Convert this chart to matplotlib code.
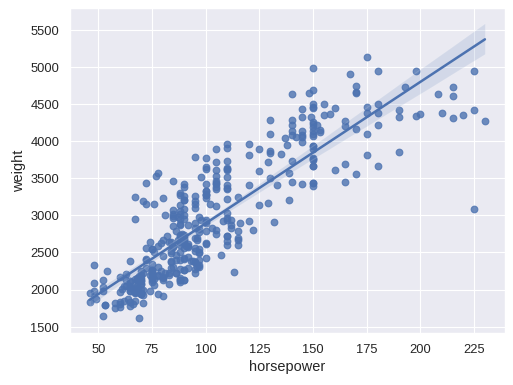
import matplotlib
matplotlib.use("Agg")
import matplotlib.pyplot as plt
import seaborn as sns
import pandas as pd

# horsepower / weight pairs
horsepower = [
    130, 165, 150, 150, 140, 198, 220, 215, 225, 190, 170, 160, 150, 225, 95, 95, 97, 85, 88, 46,
    87, 90, 95, 113, 90, 215, 200, 210, 193, 88, 90, 95, 100, 105, 100, 88, 100, 165, 175, 153,
    150, 180, 170, 175, 110, 72, 100, 88, 86, 90, 70, 76, 65, 69, 60, 70, 95, 80, 54, 90,
    86, 165, 175, 150, 153, 150, 208, 155, 160, 190, 97, 150, 130, 140, 150, 112, 76, 87, 69, 86,
    92, 97, 80, 88, 175, 150, 145, 137, 150, 198, 150, 158, 150, 215, 225, 175, 105, 100, 100, 88,
    95, 46, 150, 167, 170, 180, 100, 88, 72, 94, 90, 85, 107, 90, 145, 230, 49, 75, 91, 112,
    150, 110, 122, 180, 95, 100, 100, 67, 80, 65, 75, 100, 110, 105, 140, 150, 150, 140, 150, 83,
    67, 78, 52, 61, 75, 75, 75, 97, 93, 67, 95, 105, 72, 72, 170, 145, 150, 148, 110, 105,
    110, 95, 110, 110, 129, 75, 83, 100, 78, 96, 71, 97, 97, 70, 90, 95, 88, 98, 115, 53,
    86, 81, 92, 79, 83, 140, 150, 120, 152, 100, 105, 81, 90, 52, 60, 70, 53, 100, 78, 110,
    95, 71, 70, 75, 72, 102, 150, 88, 108, 120, 180, 145, 130, 150, 68, 80, 58, 96, 70, 145,
    110, 145, 130, 110, 105, 100, 98, 180, 170, 190, 149, 78, 88, 75, 89, 63, 83, 67, 78, 97,
    110, 110, 48, 66, 52, 70, 60, 110, 140, 139, 105, 95, 85, 88, 100, 90, 105, 85, 110, 120,
    145, 165, 139, 140, 68, 95, 97, 75, 95, 105, 85, 97, 103, 125, 115, 133, 71, 68, 115, 85,
    88, 90, 110, 130, 129, 138, 135, 155, 142, 125, 150, 71, 65, 80, 80, 77, 125, 71, 90, 70,
    70, 65, 69, 90, 115, 115, 90, 76, 60, 70, 65, 90, 88, 90, 90, 78, 90, 75, 92, 75,
    65, 105, 65, 48, 48, 67, 67, 67, 67, 62, 132, 100, 88, 72, 84, 84, 92, 110, 84, 58,
    64, 60, 67, 65, 62, 68, 63, 65, 65, 74, 75, 75, 100, 74, 80, 76, 116, 120, 110, 105,
    88, 85, 88, 88, 88, 85, 84, 90, 92, 74, 68, 68, 63, 70, 88, 75, 70, 67, 67, 67,
    110, 85, 92, 112, 96, 84, 90, 86, 52, 84, 79, 82,
]
weight = [
    3504, 3693, 3436, 3433, 3449, 4341, 4354, 4312, 4425, 3850, 3563, 3609, 3761, 3086, 2372, 2833, 2774, 2587, 2130, 1835,
    2672, 2430, 2375, 2234, 2648, 4615, 4376, 4382, 4732, 2130, 2264, 2228, 2634, 3439, 3329, 3302, 3288, 4209, 4464, 4154,
    4096, 4955, 4746, 5140, 2962, 2408, 3282, 3139, 2220, 2123, 2074, 2065, 1773, 1613, 1834, 1955, 2278, 2126, 2254, 2408,
    2226, 4274, 4385, 4135, 4129, 3672, 4633, 4502, 4456, 4422, 2330, 3892, 4098, 4294, 4077, 2933, 2511, 2979, 2189, 2395,
    2288, 2506, 2164, 2100, 4100, 3672, 3988, 4042, 3777, 4952, 4464, 4363, 4237, 4735, 4951, 3821, 3121, 3278, 2945, 3021,
    2904, 1950, 4997, 4906, 4654, 4499, 2789, 2279, 2401, 2379, 2124, 2310, 2472, 2265, 4082, 4278, 1867, 2158, 2582, 2868,
    3399, 2660, 2807, 3664, 3102, 2901, 3336, 1950, 2451, 1836, 2542, 3781, 3632, 3613, 4141, 4699, 4457, 4638, 4257, 2219,
    1963, 2300, 1649, 2003, 2125, 2108, 2246, 2489, 2391, 2000, 3264, 3459, 3432, 3158, 4668, 4440, 4498, 4657, 3907, 3897,
    3730, 3785, 3039, 3221, 3169, 2171, 2639, 2914, 2592, 2702, 2223, 2545, 2984, 1937, 3211, 2694, 2957, 2945, 2671, 1795,
    2464, 2220, 2572, 2255, 2202, 4215, 4190, 3962, 4215, 3233, 3353, 3012, 3085, 2035, 2164, 1937, 1795, 3651, 3574, 3645,
    3193, 1825, 1990, 2155, 2565, 3150, 3940, 3270, 2930, 3820, 4380, 4055, 3870, 3755, 2045, 2155, 1825, 2300, 1945, 4335,
    3960, 4140, 4295, 3520, 3425, 3630, 3525, 4220, 4165, 4325, 4335, 1940, 2740, 2265, 2755, 2051, 2075, 1985, 2190, 2815,
    2600, 2720, 1985, 1800, 1985, 2070, 1800, 3365, 3735, 3570, 3535, 3155, 2965, 2720, 3430, 3210, 3380, 3070, 3620, 3410,
    3425, 3445, 3205, 4080, 2155, 2560, 2300, 2230, 2515, 2745, 2855, 2405, 2830, 3140, 2795, 3410, 1990, 2135, 3245, 2990,
    2890, 3265, 3360, 3840, 3725, 3955, 3830, 4360, 4054, 3605, 3940, 1925, 1975, 1915, 2670, 3530, 3900, 3190, 3420, 2200,
    2150, 2020, 2130, 2670, 2595, 2700, 2556, 2144, 1968, 2120, 2019, 2678, 2870, 3003, 3381, 2188, 2711, 2542, 2434, 2265,
    2110, 2800, 2110, 2085, 2335, 2950, 3250, 1850, 2145, 1845, 2910, 2420, 2500, 2290, 2490, 2635, 2620, 2725, 2385, 1755,
    1875, 1760, 2065, 1975, 2050, 1985, 2215, 2045, 2380, 2190, 2210, 2350, 2615, 2635, 3230, 3160, 2900, 2930, 3415, 3725,
    3060, 3465, 2605, 2640, 2395, 2575, 2525, 2735, 2865, 1980, 2025, 1970, 2125, 2125, 2160, 2205, 2245, 1965, 1965, 1995,
    2945, 3015, 2585, 2835, 2665, 2370, 2950, 2790, 2130, 2295, 2625, 2720,
]

df = pd.DataFrame({"horsepower": horsepower, "weight": weight})

sns.set_theme()
plt.rcParams['font.family'] = ['Liberation Sans', 'DejaVu Sans']
plt.rcParams['axes.labelsize'] = 13
plt.rcParams['xtick.labelsize'] = 11.5
plt.rcParams['ytick.labelsize'] = 11.5

fig, ax = plt.subplots(figsize=(6.4, 4.8), dpi=80.3)
sns.regplot(data=df, x="horsepower", y="weight", ax=ax, seed=0)
ax.set_xticks([50, 75, 100, 125, 150, 175, 200, 225])
ax.set_yticks([1500, 2000, 2500, 3000, 3500, 4000, 4500, 5000, 5500])

plt.subplots_adjust(left=0.136, right=0.982, bottom=0.135, top=0.977)
plt.savefig("out.png")
